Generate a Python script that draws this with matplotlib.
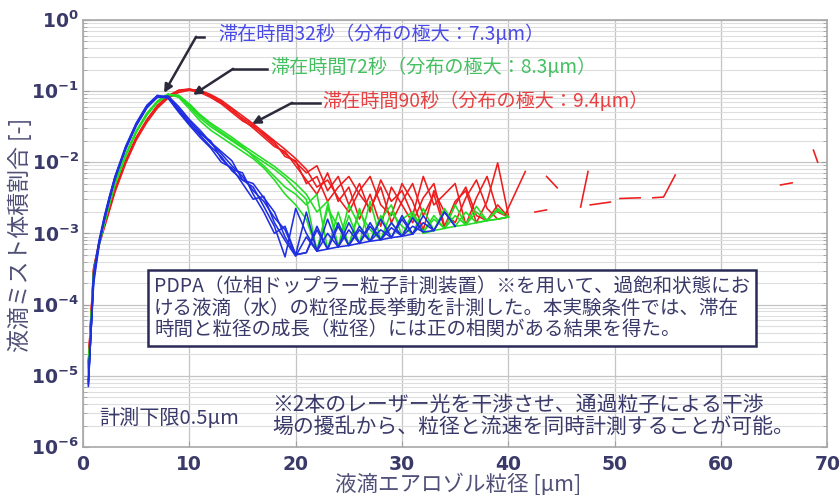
import numpy as np
import matplotlib
matplotlib.use("Agg")
import matplotlib.pyplot as plt
from matplotlib.ticker import FixedLocator, FuncFormatter, LogLocator, NullFormatter

plt.rcParams['font.family'] = ['Noto Sans CJK JP', 'DejaVu Sans']

# ---- data (values read as log10 of volume fraction) ----
x_bins = [0.5, 1, 1.5, 2, 2.5, 3, 4, 5, 6, 7, 8, 9, 10, 11, 12, 13, 14, 15, 16, 17, 18, 19, 20,
          21, 22, 23, 24, 25, 26, 27, 28, 29, 30, 31, 32, 33, 34, 35, 36, 37, 38, 39, 40]
nan = float('nan')

blue_32s = [
    [-5.10, -3.62, -3.15, -2.80, -2.50, -2.22, -1.80, -1.47, -1.22, -1.07, -1.08, -1.25, -1.42,
     -1.58, -1.73, -1.88, -2.05, -2.20, -2.40, -2.55, -2.78, -2.95, -3.30,
     -3.27, -2.90, -3.22, -2.85, -3.17, -2.95, -3.11, -2.80, -3.06, -2.75, -3.01, -2.75, -2.96, -2.70, -2.90,
     nan, nan, nan, nan, nan],
    [-5.05, -3.70, -3.18, -2.78, -2.48, -2.20, -1.78, -1.45, -1.20, -1.06, -1.10, -1.28, -1.45,
     -1.62, -1.78, -1.92, -2.12, -2.25, -2.35, -2.62, -2.90, -3.33, -2.65,
     -3.00, -3.25, -2.80, -3.19, -2.95, -3.14, -2.90, -3.09, -3.06, -2.80, -3.01, -2.85, -2.96,
     nan, nan, nan, nan, nan, nan, nan],
    [-5.15, -3.55, -3.10, -2.76, -2.47, -2.21, -1.82, -1.49, -1.24, -1.08, -1.07, -1.22, -1.40,
     -1.55, -1.72, -1.85, -1.98, -2.25, -2.30, -2.50, -2.70, -3.05, -3.30,
     -2.70, -3.25, -3.22, -2.90, -3.17, -3.14, -2.85, -3.09, -2.85, -3.04, -2.78, -2.98, -2.96, -2.70, -2.90,
     nan, nan, nan, nan, nan],
    [-5.08, -3.65, -3.12, -2.82, -2.52, -2.24, -1.81, -1.48, -1.23, -1.09, -1.09, -1.26, -1.46,
     -1.60, -1.70, -1.95, -2.10, -2.15, -2.45, -2.70, -3.00, -2.90, -3.30,
     -3.27, -2.95, -3.22, -3.19, -2.85, -3.14, -3.11, -2.95, -3.06, -3.04, -2.90, -2.98,
     nan, nan, nan, nan, nan, nan, nan, nan],
    [-5.12, -3.60, -3.14, -2.79, -2.49, -2.23, -1.79, -1.46, -1.21, -1.07, -1.10, -1.30, -1.48,
     -1.65, -1.80, -2.00, -2.08, -2.30, -2.52, -2.48, -2.85, -3.10, -3.32,
     -3.05, -3.25, -3.00, -3.19, -3.17, -2.90, -3.11, -3.09, -2.92, -3.04, -3.01,
     nan, nan, nan, nan, nan, nan, nan, nan, nan],
]

green_72s = [
    [-4.95, -3.55, -3.15, -2.85, -2.57, -2.30, -1.90, -1.57, -1.32, -1.15, -1.05, -1.08, -1.22,
     -1.38, -1.50, -1.60, -1.70, -1.80, -1.90, -2.00, -2.10, -2.22, -2.38,
     -2.52, -3.25, -2.60, -3.19, -2.75, -3.14, -2.55, -3.09, -2.85, -3.04, -2.70, -2.98, -2.80, -2.93,
     -2.60, -2.88, -2.70, -2.82, -2.65, -2.77],
    [-4.90, -3.58, -3.17, -2.87, -2.58, -2.32, -1.92, -1.58, -1.34, -1.16, -1.06, -1.07, -1.20,
     -1.35, -1.47, -1.58, -1.68, -1.78, -1.92, -2.05, -2.20, -2.35, -2.45,
     -2.60, -2.45, -3.22, -2.70, -3.17, -2.65, -3.11, -2.80, -2.60, -3.04, -2.75, -3.00, -2.96, -2.65,
     -2.90, -2.88, -2.62, -2.82, -2.80, -2.77],
    [-4.98, -3.52, -3.13, -2.84, -2.56, -2.29, -1.89, -1.56, -1.31, -1.14, -1.04, -1.09, -1.25,
     -1.42, -1.55, -1.65, -1.75, -1.85, -1.95, -2.08, -2.25, -2.45, -2.60,
     -2.80, -3.25, -2.65, -2.90, -3.17, -2.70, -2.95, -3.09, -2.70, -2.90, -3.01, -2.65, -2.96, -2.93,
     -2.75, -2.88, -2.85, -2.82, -2.68, -2.77],
    [-4.93, -3.56, -3.16, -2.86, -2.58, -2.31, -1.91, -1.58, -1.33, -1.15, -1.05, -1.06, -1.18,
     -1.33, -1.45, -1.55, -1.65, -1.76, -1.86, -1.96, -2.06, -2.18, -2.30,
     -2.45, -2.70, -2.55, -3.19, -2.60, -2.90, -3.11, -2.75, -3.06, -2.80, -2.70, -2.98, -2.75, -2.93,
     -2.90, -2.70, -2.85, -2.82, -2.80, -2.77],
]

red_90s = [
    [-4.85, -3.50, -3.15, -2.90, -2.65, -2.40, -2.00, -1.67, -1.42, -1.22, -1.08, -1.00, -0.98,
     -1.00, -1.07, -1.15, -1.28, -1.38, -1.48, -1.62, -1.75, -1.88, -2.00,
     -2.15, -2.05, -2.40, -2.20, -2.60, -2.30, -2.70, -2.25, -2.55, -2.40, -2.75, -2.20, -2.60, -2.45,
     -2.30, -2.88, -2.50, -2.20, -2.70, -2.77],
    [-4.80, -3.48, -3.13, -2.88, -2.63, -2.38, -1.98, -1.65, -1.40, -1.20, -1.07, -0.99, -0.97,
     -1.01, -1.06, -1.17, -1.25, -1.40, -1.52, -1.65, -1.78, -1.85, -2.05,
     -2.25, -2.45, -2.15, -2.55, -2.35, -2.80, -2.45, -2.90, -2.35, -2.60, -2.85, -2.50, -2.30, -2.90,
     -2.55, -2.40, -2.85, -2.55, -2.01, -2.74],
    [-4.88, -3.52, -3.17, -2.92, -2.67, -2.42, -2.02, -1.69, -1.44, -1.24, -1.10, -1.02, -0.99,
     -1.02, -1.09, -1.18, -1.30, -1.42, -1.50, -1.60, -1.72, -1.92, -1.98,
     -2.30, -2.20, -2.55, -2.35, -2.20, -2.45, -2.65, -2.35, -2.85, -2.55, -2.30, -2.75, -2.45, -2.93,
     -2.60, -2.35, -2.75, -2.82, -2.60, -2.77],
    [-4.82, -3.49, -3.14, -2.89, -2.64, -2.39, -1.99, -1.66, -1.41, -1.21, -1.07, -0.99, -0.98,
     -0.99, -1.05, -1.13, -1.24, -1.35, -1.46, -1.58, -1.70, -1.82, -1.95,
     -2.10, -2.35, -2.25, -2.50, -2.70, -2.40, -2.20, -2.60, -2.75, -2.30, -2.55, -2.95, -2.40, -2.70,
     -2.85, -2.50, -2.25, -2.65, -2.80, -2.77],
]

# sparse red points beyond 40 um (x list, log10 y list) per segment
red_tail_segments = [
    ([39.7, 41.6], [-2.74, -2.13]),
    ([42.5, 43.6], [-2.70, -2.67]),
    ([43.6, 44.6], [-2.20, -2.36]),
    ([46.8, 47.5], [-2.63, -2.13]),
    ([47.7, 49.6], [-2.60, -2.56]),
    ([50.5, 52.4], [-2.51, -2.50]),
    ([53.6, 54.6, 55.7], [-2.50, -2.49, -2.18]),
    ([65.6, 66.7], [-2.32, -2.29]),
    ([68.7, 69.1], [-1.83, -2.00]),
]

x_ticks = [0, 10, 20, 30, 40, 50, 60, 70]
y_tick_exps = [0, -1, -2, -3, -4, -5, -6]

C_BLUE = '#1f2ee0'
C_GREEN = '#22dd22'
C_RED = '#ee1c1c'
TXT = '#3a3a6a'

fig = plt.figure(figsize=(8.39, 4.95), dpi=100)
ax = fig.add_axes([0.099, 0.097, 0.887, 0.863])

xb = np.array(x_bins)
for curves, c in ((red_90s, C_RED), (green_72s, C_GREEN), (blue_32s, C_BLUE)):
    for cv in curves:
        ax.plot(xb, 10.0 ** np.array(cv), color=c, lw=1.15, zorder=3)
for sx, sy in red_tail_segments:
    ax.plot(sx, 10.0 ** np.array(sy), color=C_RED, lw=1.15, zorder=3)

ax.set_yscale('log')
ax.set_xlim(0, 70)
ax.set_ylim(1e-6, 1)
ax.xaxis.set_major_locator(FixedLocator(x_ticks))
ax.yaxis.set_major_locator(FixedLocator([10.0 ** e for e in y_tick_exps]))
ax.yaxis.set_minor_locator(LogLocator(base=10, subs=np.arange(2, 10), numticks=20))
ax.yaxis.set_minor_formatter(NullFormatter())
ax.yaxis.set_major_formatter(FuncFormatter(
    lambda v, p: r'$\mathbf{10^{%d}}$' % int(round(np.log10(v)))))

ax.grid(True, which='major', color='#c4c4c4', lw=0.9, zorder=0)
ax.grid(True, which='minor', axis='y', color='#dedede', lw=0.8, zorder=0)
for s in ax.spines.values():
    s.set_color('#a8a8a8')
    s.set_linewidth(1.2)
ax.tick_params(which='both', direction='in', right=True, top=False, colors='#a0a0a0',
               labelcolor=TXT)
ax.tick_params(which='major', length=4)
ax.tick_params(which='minor', length=3)
ax.tick_params(axis='y', labelsize=13.5, pad=3)
ax.tick_params(axis='x', labelsize=13.5, pad=6)
for lab in ax.get_xticklabels():
    lab.set_fontweight('bold')
    lab.set_family(['DejaVu Sans'])

# axis labels placed explicitly in figure pixels
fig.text(458 / 839, 1 - 485 / 495, '液滴エアロゾル粒径 [μm]', fontsize=15.5, color='#505078',
         ha='center', va='center')
fig.text(20 / 839, 1 - 235 / 495, '液滴ミスト体積割合 [-]', fontsize=16.5, color='#505078',
         ha='center', va='center', rotation=90)

# series labels with arrows
arrow_c = '#2a2a3a'

def px2ax(px, py):
    return ((px - 83) / (827 - 83), (447 - py) / (447 - 20))

for (px, py), label, col in (((218, 35), '滞在時間32秒（分布の極大：7.3μm）', '#4a4ae8'),
                             ((270, 68), '滞在時間72秒（分布の極大：8.3μm）', '#44c060'),
                             ((322, 102), '滞在時間90秒（分布の極大：9.4μm）', '#e84040')):
    tx, ty = px2ax(px, py)
    ax.text(tx, ty, label, transform=ax.transAxes, fontsize=13.8, color=col,
            va='center', ha='left')

def arrow_poly(p0, p1, p2):
    ax.plot([p0[0], p1[0]], [p0[1], p1[1]], transform=ax.transAxes, color=arrow_c, lw=1.8, zorder=5)
    ax.annotate('', xy=p2, xycoords='axes fraction', xytext=p1, textcoords='axes fraction',
                arrowprops=dict(arrowstyle='-|>', color=arrow_c, lw=1.8, mutation_scale=12,
                                shrinkA=0, shrinkB=0), zorder=5)

arrow_poly(px2ax(204, 37), px2ax(196, 37), px2ax(164, 93))
arrow_poly(px2ax(267, 69), px2ax(233, 69), px2ax(193, 95))
arrow_poly(px2ax(320, 103), px2ax(292, 103), px2ax(252, 124))

# explanation box
box_text = ('PDPA（位相ドップラー粒子計測装置）※を用いて、過飽和状態にお\n'
            'ける液滴（水）の粒径成長挙動を計測した。本実験条件では、滞在\n'
            '時間と粒径の成長（粒径）には正の相関がある結果を得た。')
bx, by = px2ax(154, 308)
ax.text(bx, by, box_text, transform=ax.transAxes, fontsize=14, color=TXT,
        va='center', ha='left', linespacing=1.05, zorder=6,
        bbox=dict(boxstyle='square,pad=0.3', fc='white', ec='#2a2a55', lw=1.8))

nx, ny = px2ax(272, 416)
ax.text(nx, ny, '※2本のレーザー光を干渉させ、通過粒子による干渉\n場の擾乱から、粒径と流速を同時計測することが可能。',
        transform=ax.transAxes, fontsize=15, color=TXT, va='center', ha='left',
        linespacing=0.95, zorder=6)
lx, ly = px2ax(99, 418)
ax.text(lx, ly, '計測下限0.5μm', transform=ax.transAxes, fontsize=14.5, color=TXT,
        va='center', ha='left', zorder=6)

fig.savefig('out.png', dpi=100)
